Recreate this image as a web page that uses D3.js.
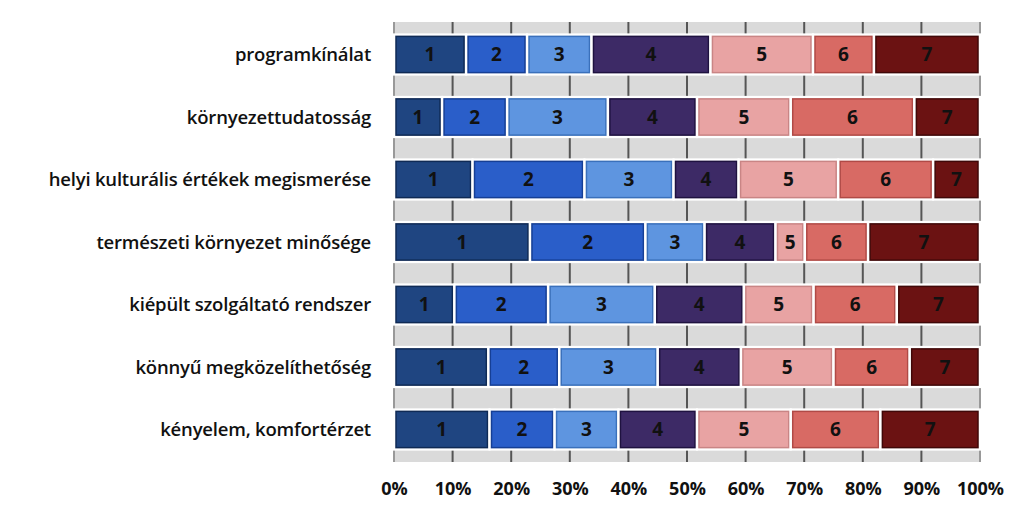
<!DOCTYPE html>
<html>
<head>
<meta charset="utf-8">
<script src="https://cdn.jsdelivr.net/npm/d3@7"></script>
<style>
  body { margin: 0; background: #fff; }
  svg { display: block; }
  text { font-family: "Open Sans", sans-serif; }
</style>
</head>
<body>
<div id="chart"></div>
<script>
// categories, top to bottom
const categories = [
    "programkínálat",
    "környezettudatosság",
    "helyi kulturális értékek megismerése",
    "természeti környezet minősége",
    "kiépült szolgáltató rendszer",
    "könnyű megközelíthetőség",
    "kényelem, komfortérzet"
];
const seriesNames = ["1", "2", "3", "4", "5", "6", "7"];
// percentage of answers per rating, one array per rating
const s1 = [12.3, 8.2, 13.4, 23.2, 10.3, 16.1, 16.3];
const s2 = [10.4, 11.1, 19.1, 19.7, 16.0, 12.1, 11.1];
const s3 = [11.0, 17.2, 15.2, 10.1, 18.2, 16.8, 10.9];
const s4 = [20.3, 15.2, 11.1, 12.1, 15.2, 14.2, 13.4];
const s5 = [17.5, 16.0, 17.0, 5.0, 11.9, 15.8, 16.0];
const s6 = [10.4, 21.1, 16.2, 10.8, 14.2, 13.0, 15.3];
const s7 = [18.1, 11.2, 8.0, 19.1, 14.2, 12.0, 17.0];
const xTicks = [0, 10, 20, 30, 40, 50, 60, 70, 80, 90, 100];

const colors = ["#1f4581", "#2a5ec9", "#5e95e0", "#3d2a66", "#e8a3a3", "#d86a64", "#6b1212"];
const strokes = ["#0f2a55", "#163f95", "#3a70bb", "#1f1240", "#c98585", "#b04a46", "#400808"];

const width = 1024, height = 512;
const margin = {left: 394, right: 44, top: 22, bottom: 50};

// build rows for the stack
const allSeries = [s1, s2, s3, s4, s5, s6, s7];
const rows = categories.map((c, i) => {
    const r = {cat: c};
    seriesNames.forEach((s, j) => r[s] = allSeries[j][i]);
    return r;
});
const stacked = d3.stack().keys(seriesNames).offset(d3.stackOffsetExpand)(rows);

const svg = d3.select("#chart").append("svg")
    .attr("width", width)
    .attr("height", height);

const x = d3.scaleLinear().domain([0, 1]).range([margin.left, width - margin.right]);
const y = d3.scaleBand().domain(categories)
    .range([margin.top, height - margin.bottom])
    .paddingInner(0.42).paddingOuter(0.23);

// gray plot background
svg.append("rect")
    .attr("x", x(0)).attr("y", margin.top)
    .attr("width", x(1) - x(0)).attr("height", height - margin.bottom - margin.top)
    .attr("fill", "#dadada");

// gridlines
svg.append("g")
    .selectAll("line")
    .data(xTicks)
    .join("line")
    .attr("x1", d => x(d / 100)).attr("x2", d => x(d / 100))
    .attr("y1", margin.top).attr("y2", height - margin.bottom)
    .attr("stroke", (d, i) => (i === 0 || i === 10) ? "#999" : "#555")
    .attr("stroke-width", 2);

// bars
const group = svg.append("g")
    .selectAll("g")
    .data(stacked)
    .join("g");

group.selectAll("rect.out")
    .data((d, i) => d.map(v => ({v, i})))
    .join("rect")
    .attr("class", "out")
    .attr("x", d => x(d.v[0]) - 1)
    .attr("y", d => y(d.v.data.cat) - 3)
    .attr("width", d => x(d.v[1]) - x(d.v[0]) + 2)
    .attr("height", y.bandwidth() + 6)
    .attr("fill", "#fff");

group.selectAll("rect.bar")
    .data((d, i) => d.map(v => ({v, i})))
    .join("rect")
    .attr("class", "bar")
    .attr("x", d => x(d.v[0]) + 2)
    .attr("y", d => y(d.v.data.cat))
    .attr("width", d => x(d.v[1]) - x(d.v[0]) - 4)
    .attr("height", y.bandwidth())
    .attr("fill", d => colors[d.i])
    .attr("stroke", d => strokes[d.i])
    .attr("stroke-width", 1.5);

group.selectAll("text")
    .data((d, i) => d.map(v => ({v, i})))
    .join("text")
    .attr("x", d => (x(d.v[0]) + x(d.v[1])) / 2)
    .attr("y", d => y(d.v.data.cat) + y.bandwidth() / 2)
    .attr("dy", "0.36em")
    .attr("text-anchor", "middle")
    .attr("font-size", 19)
    .attr("font-weight", 700)
    .attr("fill", "#111")
    .text(d => seriesNames[d.i]);

// category labels
svg.append("g")
    .selectAll("text")
    .data(categories)
    .join("text")
    .attr("x", 371)
    .attr("y", d => y(d) + y.bandwidth() / 2)
    .attr("dy", "0.36em")
    .attr("text-anchor", "end")
    .attr("font-size", 18.5)
    .attr("font-weight", 600)
    .attr("letter-spacing", -0.2)
    .attr("fill", "#111")
    .text(d => d);

// x axis labels
const xAxis = d3.axisBottom(x)
    .tickValues(xTicks.map(t => t / 100))
    .tickFormat(d3.format(".0%"))
    .tickSize(0)
    .tickPadding(20);

const ax = svg.append("g")
    .attr("transform", `translate(0,${height - margin.bottom})`)
    .call(xAxis);
ax.select(".domain").remove();
ax.selectAll("text")
    .attr("font-size", 18)
    .attr("font-weight", 700)
    .attr("fill", "#111")
    .attr("font-family", "'Open Sans', sans-serif");
</script>
</body>
</html>
